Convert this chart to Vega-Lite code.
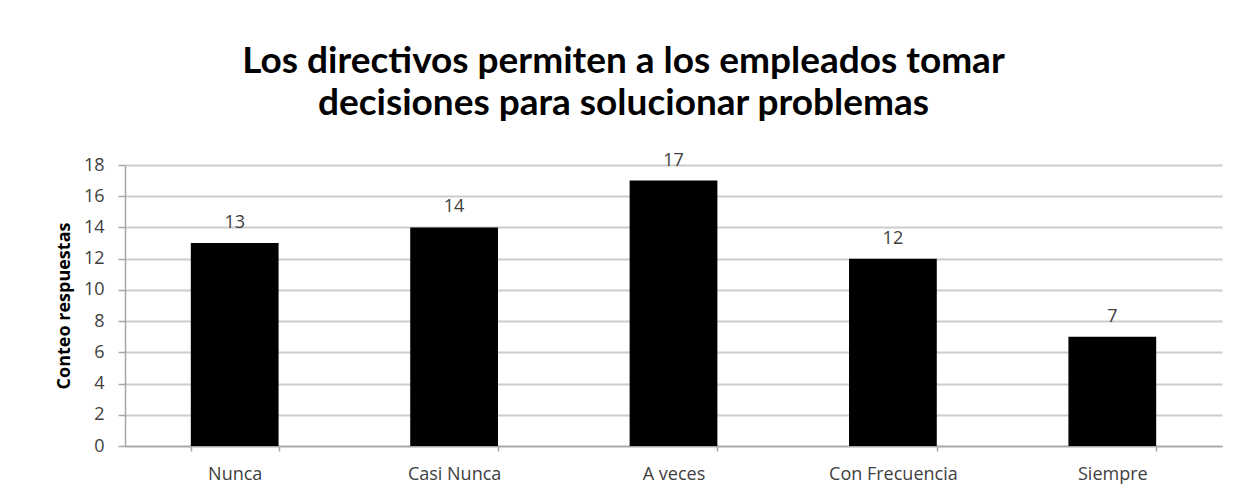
{
  "$schema": "https://vega.github.io/schema/vega-lite/v6.json",
  "width": 1097,
  "height": 281,
  "autosize": {"type": "none"},
  "padding": {"left": 125, "top": 165, "right": 16, "bottom": 51},
  "background": "white",
  "title": {
    "text": ["Los directivos permiten a los empleados tomar", "decisiones para solucionar problemas"],
    "font": "Lato",
    "fontSize": 37,
    "fontWeight": "bold",
    "color": "#000000",
    "anchor": "middle",
    "frame": "group",
    "dx": -50,
    "offset": 29,
    "lineHeight": 42
  },
  "data": {
    "values": [
      {"categoria": "Nunca", "conteo": 13},
      {"categoria": "Casi Nunca", "conteo": 14},
      {"categoria": "A veces", "conteo": 17},
      {"categoria": "Con Frecuencia", "conteo": 12},
      {"categoria": "Siempre", "conteo": 7}
    ]
  },
  "encoding": {
    "x": {
      "field": "categoria",
      "type": "nominal",
      "sort": null,
      "title": null,
      "scale": {"paddingInner": 0.6, "paddingOuter": 0.3},
      "axis": {
        "labelAngle": 0,
        "labelFont": "Open Sans",
        "labelFontSize": 18,
        "labelColor": "#404040",
        "labelPadding": 14,
        "tickBand": "extent",
        "tickSize": 5,
        "tickColor": "#a6a6a6",
        "tickWidth": 1.5,
        "domainColor": "#a6a6a6",
        "domainWidth": 1.5,
        "grid": false
      }
    },
    "y": {
      "field": "conteo",
      "type": "quantitative",
      "title": "Conteo respuestas",
      "scale": {"domain": [0, 18], "nice": false},
      "axis": {
        "values": [0, 2, 4, 6, 8, 10, 12, 14, 16, 18],
        "labelFont": "Open Sans",
        "labelFontSize": 18,
        "labelColor": "#404040",
        "labelPadding": 14,
        "tickSize": 7,
        "tickColor": "#a6a6a6",
        "tickWidth": 1.5,
        "domainColor": "#a6a6a6",
        "domainWidth": 1.5,
        "grid": true,
        "gridColor": "#cccccc",
        "gridWidth": 2,
        "titleFont": "Open Sans",
        "titleFontSize": 18,
        "titleFontWeight": "bold",
        "titleColor": "#000000",
        "titlePadding": 10
      }
    }
  },
  "layer": [
    {"mark": {"type": "bar", "color": "#000000"}},
    {
      "mark": {"type": "text", "baseline": "alphabetic", "dy": -15, "font": "Open Sans", "fontSize": 18, "color": "#404040"},
      "encoding": {"text": {"field": "conteo", "type": "quantitative"}}
    }
  ],
  "config": {"view": {"stroke": null}}
}
